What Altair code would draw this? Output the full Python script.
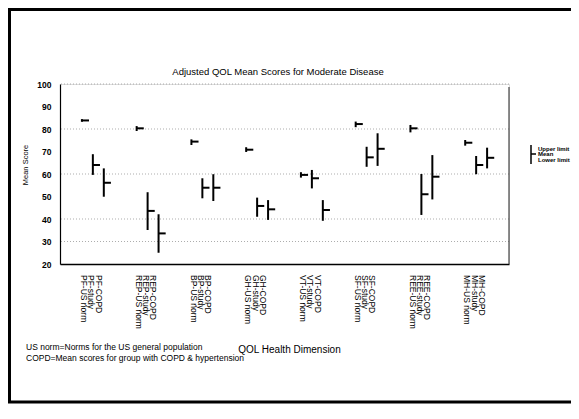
import altair as alt
import pandas as pd

groups = ["PF", "REP", "BP", "GH", "VT", "SF", "REE", "MH"]
series = ["US norm", "study", "COPD"]

lower = [83.2, 59.6, 49.9,
         79.1, 35.1, 25.0,
         72.9, 49.2, 48.0,
         69.8, 41.0, 39.6,
         58.4, 53.6, 39.2,
         80.8, 63.2, 63.6,
         78.5, 41.8, 48.7,
         72.6, 59.9, 62.5]
mean = [83.8, 64.0, 56.1,
        80.3, 43.6, 33.6,
        74.4, 53.9, 53.9,
        70.8, 45.8, 44.3,
        59.6, 58.1, 44.0,
        82.2, 67.4, 71.2,
        80.3, 51.0, 58.8,
        73.9, 64.0, 67.2]
upper = [84.4, 68.8, 62.5,
         81.3, 51.9, 42.1,
         75.4, 58.1, 59.9,
         71.9, 49.5, 48.4,
         60.8, 61.8, 48.4,
         83.3, 72.1, 78.1,
         81.8, 60.0, 68.4,
         75.1, 68.0, 71.7]

y_ticks = [20, 30, 40, 50, 60, 70, 80, 90, 100]
grid_values = [30, 40, 60, 80, 100]
title_text = "Adjusted QOL Mean Scores for Moderate Disease"
x_title = "QOL Health Dimension"
y_title = "Mean Score"
notes = "US norm=Norms for the US general population\nCOPD=Mean scores for group with COPD & hypertension"
legend_text = "Upper limit\nMean\nLower limit"

rows = []
for gi, g in enumerate(groups):
    for si, s in enumerate(series):
        i = gi * 3 + si
        rows.append(dict(label=f"{g}-{s}", pos=gi * 5 + si, pos2=gi * 5 + si + 0.65,
                         lpos=gi * 5 + 0.2 + 0.66 * si,
                         lo=lower[i], mean=mean[i], hi=upper[i]))
df = pd.DataFrame(rows)
grid_df = pd.DataFrame({"v": grid_values})
one = pd.DataFrame({"a": [0]})

W, H = 449, 180
FONT = "Liberation Sans"
xs = alt.Scale(domain=[-2, 39], nice=False, zero=False)
ys = alt.Scale(domain=[20, 100], nice=False, zero=False)

x_axis = alt.Axis(labels=False, ticks=False, grid=False, domainColor="black", domainWidth=1.5,
                  titleX=229, titleY=85, titleFontSize=10, titleFontWeight="normal",
                  titleBaseline="middle", titleAlign="center", titleFont=FONT, titleColor="black")
y_axis = alt.Axis(values=y_ticks, ticks=False, grid=False, labelPadding=9, labelFontSize=8.5,
                  labelFontWeight="bold", labelFont=FONT, labelColor="black", labelOverlap=False,
                  domainColor="black", domainWidth=1.2,
                  titleX=-35, titleY=80.5, titleAngle=-90, titleFontSize=7.5,
                  titleFontWeight="normal", titleBaseline="middle", titleAlign="center",
                  titleFont=FONT, titleColor="black")

grid = alt.Chart(grid_df).mark_rule(color="#999999", strokeWidth=1, strokeDash=[1, 2], opacity=0.8).encode(
    y=alt.Y("v:Q", scale=ys, title=y_title, axis=y_axis)
)

bars = alt.Chart(df).mark_rule(color="black", strokeWidth=2).encode(
    x=alt.X("pos:Q", scale=xs, title=x_title, axis=x_axis),
    y=alt.Y("lo:Q", scale=ys, title=y_title, axis=y_axis),
    y2="hi:Q",
)
means = alt.Chart(df).mark_rule(color="black", strokeWidth=2).encode(
    x=alt.X("pos:Q", scale=xs, title=x_title, axis=x_axis),
    x2="pos2:Q",
    y=alt.Y("mean:Q", scale=ys, title=y_title, axis=y_axis),
)
xlabels = alt.Chart(df).mark_text(angle=90, align="left", baseline="middle", fontSize=8.5,
                                  font=FONT, color="black").encode(
    x=alt.X("lpos:Q", scale=xs, title=x_title, axis=x_axis),
    y=alt.value(191),
    text="label:N",
)

title_mark = alt.Chart(one).mark_text(align="center", baseline="middle", fontSize=9.5,
                                      font=FONT, color="black").encode(
    x=alt.value(218), y=alt.value(-12.5), text=alt.value(title_text))

right_border = alt.Chart(one).mark_rule(color="#444444", strokeWidth=1.2).encode(
    x=alt.value(W), y=alt.value(3), y2=alt.value(H))

frame_top = alt.Chart(one).mark_rule(color="black", strokeWidth=3).encode(
    x=alt.value(-52), x2=alt.value(W + 62), y=alt.value(-74.5))
frame_left = alt.Chart(one).mark_rule(color="black", strokeWidth=3).encode(
    x=alt.value(-50.5), y=alt.value(-76), y2=alt.value(319))
frame_bottom = alt.Chart(one).mark_rule(color="black", strokeWidth=3).encode(
    x=alt.value(-52), x2=alt.value(W + 62), y=alt.value(318))

note_text = alt.Chart(one).mark_text(align="left", baseline="middle", fontSize=8.5, font=FONT,
                                     color="black", lineBreak="\n", lineHeight=10.4).encode(
    x=alt.value(-34), y=alt.value(263.3), text=alt.value(notes))

leg_v = alt.Chart(one).mark_rule(color="black", strokeWidth=1.5).encode(
    x=alt.value(471), y=alt.value(61), y2=alt.value(80))
leg_m = alt.Chart(one).mark_rule(color="black", strokeWidth=1.5).encode(
    x=alt.value(471), x2=alt.value(476), y=alt.value(70))
leg_t = alt.Chart(one).mark_text(align="left", baseline="top", fontSize=6, fontWeight="bold",
                                 font=FONT, color="black", lineBreak="\n", lineHeight=5.8).encode(
    x=alt.value(478), y=alt.value(61.5), text=alt.value(legend_text))

chart = alt.layer(
    grid, bars, means, xlabels, title_mark, right_border, frame_top, frame_left, frame_bottom,
    note_text, leg_v, leg_m, leg_t
).properties(
    width=W, height=H,
    autosize=alt.AutoSizeParams(type="none"),
    padding={"left": 52, "top": 76, "right": 62, "bottom": 140},
).configure_view(stroke=None).configure(background="white")

chart.save("out.html", embed_options={"renderer": "svg", "actions": False})
